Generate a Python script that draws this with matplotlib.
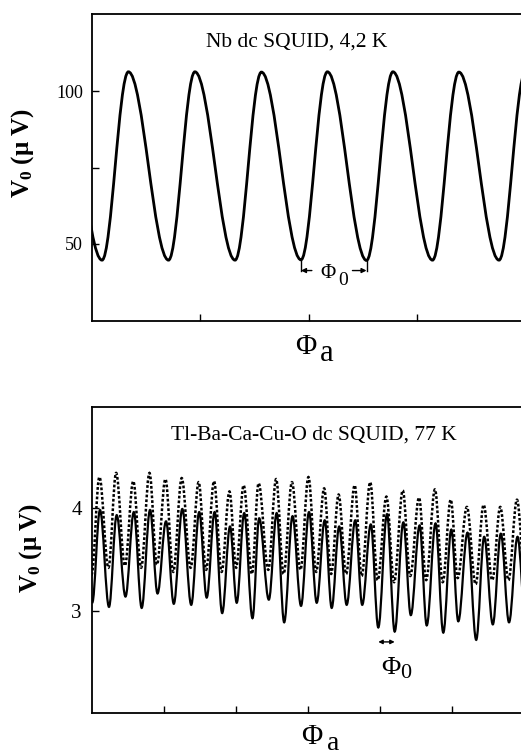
import matplotlib
matplotlib.use("Agg")
import matplotlib.pyplot as plt
from matplotlib.path import Path
from matplotlib.patches import PathPatch

plt.rcParams['font.family'] = ['Liberation Serif', 'DejaVu Serif']
plt.rcParams['mathtext.fontset'] = 'custom'
plt.rcParams['mathtext.rm'] = 'Liberation Serif'
plt.rcParams['mathtext.bf'] = 'Liberation Serif:bold'
plt.rcParams['mathtext.it'] = 'Liberation Serif:italic'

# ---------------- data: Nb dc SQUID (extrema of V0 vs applied flux) ----------------
nb_x = [-0.273, 0.097, 0.340, 0.710, 0.953, 1.323, 1.566, 1.931, 2.174,
        2.535, 2.778, 3.143, 3.386, 3.756, 3.999, 4.370]
nb_v = [106.3, 44.7, 106.3, 44.7, 106.3, 44.7, 106.2, 44.8, 106.3,
        44.6, 106.3, 44.7, 106.2, 44.7, 106.3, 44.7]
nb_yticks = [50, 75, 100]
nb_yticklabels = ['50', '', '100']
nb_xticks = [1, 2, 3]

# ---------------- data: Tl-Ba-Ca-Cu-O dc SQUID (extrema) ----------------
tl_solid_x = [0.010, 0.118, 0.243, 0.350, 0.472, 0.588, 0.697, 0.813, 0.917,
              1.035, 1.143, 1.261, 1.385, 1.496, 1.600, 1.710, 1.815, 1.924,
              2.017, 2.121, 2.236, 2.329, 2.463, 2.572, 2.676, 2.792, 2.910,
              3.021, 3.128, 3.239, 3.336, 3.440, 3.544, 3.663, 3.760, 3.879,
              3.983, 4.104, 4.211, 4.331, 4.435, 4.557, 4.656, 4.778, 4.886,
              4.997, 5.094, 5.222, 5.343, 5.454, 5.574, 5.685, 5.799, 5.917,
              6.030]
tl_solid_v = [3.08, 3.98, 3.04, 3.93, 3.14, 3.96, 3.03, 3.98, 3.17,
              3.87, 3.07, 3.99, 3.06, 3.96, 3.13, 3.96, 2.98, 3.82,
              3.08, 3.95, 2.93, 3.90, 3.11, 3.95, 2.89, 3.92, 3.05,
              3.96, 3.08, 3.88, 3.03, 3.82, 3.06, 3.88, 3.06, 3.84,
              2.84, 3.94, 2.80, 3.86, 2.96, 3.83, 2.86, 3.85, 2.79,
              3.79, 2.90, 3.76, 2.72, 3.72, 2.87, 3.75, 2.89, 3.72,
              2.90]
tl_dot_x = [0.000, 0.110, 0.235, 0.342, 0.464, 0.580, 0.689, 0.805, 0.909,
            1.027, 1.135, 1.253, 1.377, 1.488, 1.592, 1.702, 1.807, 1.916,
            2.009, 2.113, 2.228, 2.321, 2.455, 2.564, 2.668, 2.784, 2.902,
            3.013, 3.120, 3.231, 3.328, 3.432, 3.536, 3.655, 3.752, 3.871,
            3.975, 4.096, 4.203, 4.323, 4.427, 4.549, 4.648, 4.770, 4.878,
            4.989, 5.086, 5.214, 5.335, 5.446, 5.566, 5.677, 5.791, 5.909,
            6.022]
tl_dot_v = [3.35, 4.30, 3.42, 4.34, 3.44, 4.26, 3.42, 4.34, 3.45,
            4.28, 3.38, 4.29, 3.42, 4.25, 3.40, 4.26, 3.38, 4.16,
            3.42, 4.22, 3.36, 4.24, 3.40, 4.28, 3.36, 4.25, 3.40,
            4.30, 3.38, 4.19, 3.36, 4.13, 3.36, 4.22, 3.34, 4.25,
            3.30, 4.11, 3.28, 4.17, 3.34, 4.10, 3.30, 4.18, 3.28,
            4.08, 3.32, 4.01, 3.26, 4.03, 3.30, 4.01, 3.30, 4.08,
            3.32]
tl_yticks = [3, 4]
tl_yticklabels = ['3', '4']
tl_xticks = [1, 2, 3, 4, 5]

W, H = 521, 756
fig = plt.figure(figsize=(W / 100, H / 100), dpi=100)


def px_axes(l, t, r, b):
    return fig.add_axes([l / W, 1 - b / H, (r - l) / W, (b - t) / H])


def fx(x):
    return x / W


def fy(y):
    return 1 - y / H


def smooth_curve(ax, xs, ys, k=0.36, **kw):
    verts = [(xs[0], ys[0])]
    codes = [Path.MOVETO]
    for i in range(len(xs) - 1):
        d = (xs[i + 1] - xs[i]) * k
        verts += [(xs[i] + d, ys[i]), (xs[i + 1] - d, ys[i + 1]), (xs[i + 1], ys[i + 1])]
        codes += [Path.CURVE4] * 3
    patch = PathPatch(Path(verts, codes), fill=False, transform=ax.transData, **kw)
    ax.add_patch(patch)
    return patch


def style_axes(ax):
    for s in ax.spines.values():
        s.set_linewidth(1.3)
    ax.tick_params(direction='in', length=5, width=1.0, top=False, right=False)


# ---------------- top panel ----------------
ax1 = px_axes(91.5, 14, 524, 321)
style_axes(ax1)
ax1.set_xlim(0, (524 - 91.5) / 108.5)
ax1.set_ylim(24.8, 125.2)
smooth_curve(ax1, nb_x, nb_v, k=0.36, color='black', lw=2.0)
ax1.set_xticks(nb_xticks)
ax1.set_xticklabels([])
ax1.set_yticks(nb_yticks)
ax1.set_yticklabels(nb_yticklabels)
ax1.tick_params(axis='y', labelsize=13, pad=6)

fig.text(fx(297), fy(42), 'Nb dc SQUID, 4,2 K', ha='center', va='center', fontsize=15.5)

# Phi0 marker (between two minima)
m1, m2 = nb_x[7], nb_x[9]
yarr = 41.3
for mx in (m1, m2):
    ax1.plot([mx, mx], [nb_v[7] - 0.5, yarr], color='black', lw=1.0)
ax1.annotate('', xy=(m1, yarr), xytext=(m1 + 0.10, yarr),
             arrowprops=dict(arrowstyle='-|>', color='black', lw=1.0, mutation_scale=7,
                             shrinkA=0, shrinkB=0))
ax1.annotate('', xy=(m2, yarr), xytext=(m2 - 0.13, yarr),
             arrowprops=dict(arrowstyle='-|>', color='black', lw=1.0, mutation_scale=7,
                             shrinkA=0, shrinkB=0))
fig.text(fx(328), fy(273.5), 'Φ', ha='center', va='center', fontsize=15)
fig.text(fx(343.5), fy(281), '0', ha='center', va='center', fontsize=14)

# y label + x label
fig.text(fx(23), fy(153), r'$\mathbf{V_0}$ (μ V)', rotation=90, ha='center', va='center',
         fontsize=18, fontweight='bold')
fig.text(fx(306), fy(347), 'Φ', ha='center', va='center', fontsize=21)
fig.text(fx(327), fy(353), 'a', ha='center', va='center', fontsize=22)

# ---------------- bottom panel ----------------
ax2 = px_axes(91.5, 407, 524, 713)
style_axes(ax2)
ax2.set_xlim(0, (524 - 91.5) / 72.0)
ax2.set_ylim(2.01, 4.98)
smooth_curve(ax2, tl_dot_x, tl_dot_v, k=0.36, color='black', lw=1.8,
             linestyle=(0, (1.1, 0.8)))
smooth_curve(ax2, tl_solid_x, tl_solid_v, k=0.36, color='black', lw=1.6)
ax2.set_xticks(tl_xticks)
ax2.set_xticklabels([])
ax2.set_yticks(tl_yticks)
ax2.set_yticklabels(tl_yticklabels)
ax2.tick_params(axis='y', labelsize=15, pad=7)

fig.text(fx(314), fy(435), 'Tl-Ba-Ca-Cu-O dc SQUID, 77 K', ha='center', va='center',
         fontsize=15.5)

a1, a2 = tl_solid_x[36], tl_solid_x[38]
ax2.annotate('', xy=(a1, 2.70), xytext=(a2, 2.70),
             arrowprops=dict(arrowstyle='<|-|>', color='black', lw=1.0, mutation_scale=6,
                             shrinkA=0, shrinkB=0))
fig.text(fx(391), fy(667.5), 'Φ', ha='center', va='center', fontsize=19)
fig.text(fx(406), fy(674), '0', ha='center', va='center', fontsize=16)

fig.text(fx(31), fy(548), r'$\mathbf{V_0}$ (μ V)', rotation=90, ha='center', va='center',
         fontsize=18, fontweight='bold')
fig.text(fx(312), fy(737), 'Φ', ha='center', va='center', fontsize=21)
fig.text(fx(333), fy(744), 'a', ha='center', va='center', fontsize=20)

fig.savefig('out.png', dpi=100)
